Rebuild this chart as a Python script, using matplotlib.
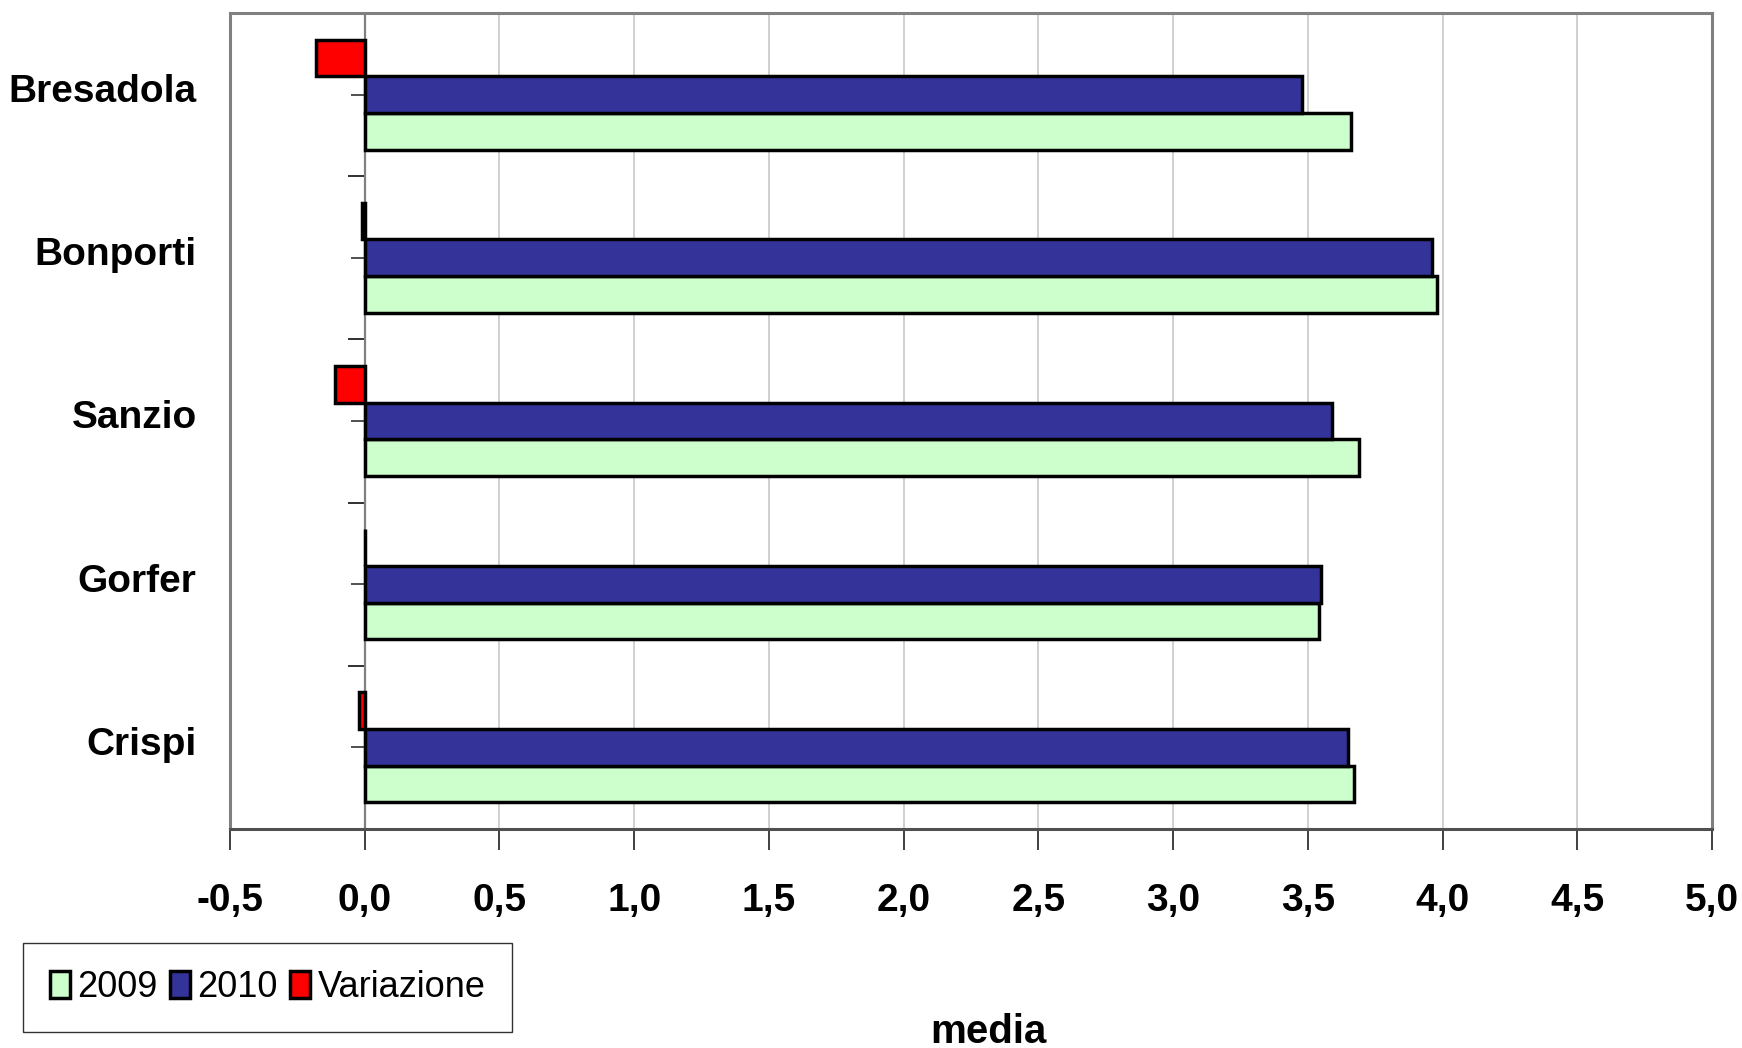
import matplotlib
matplotlib.use("Agg")
import matplotlib.pyplot as plt
import numpy as np

# data
schools = ["Bresadola", "Bonporti", "Sanzio", "Gorfer", "Crispi"]
media_2009 = [3.66, 3.98, 3.69, 3.54, 3.67]
media_2010 = [3.48, 3.96, 3.59, 3.55, 3.65]
variazione = [-0.18, -0.01, -0.11, 0.0, -0.02]
x_ticks = [-0.5, 0.0, 0.5, 1.0, 1.5, 2.0, 2.5, 3.0, 3.5, 4.0, 4.5, 5.0]

plt.rcParams["font.family"] = ["Liberation Sans Narrow", "Liberation Sans", "DejaVu Sans"]

fig = plt.figure(figsize=(17.42, 10.48), dpi=100)
ax = fig.add_axes([230 / 1742, 1 - 829 / 1048, (1712 - 230) / 1742, (829 - 13) / 1048])

y = np.arange(len(schools))
h = 0.225
edge = dict(edgecolor="black", linewidth=2.5, zorder=3)
ax.barh(y + h, media_2009, height=h, color="#CCFFCC", label="2009", **edge)
ax.barh(y, media_2010, height=h, color="#333399", label="2010", **edge)
ax.barh(y - h, variazione, height=h, color="#FF0000", label="Variazione", **edge)

ax.set_xlim(-0.5, 5.0)
ax.set_ylim(len(schools) - 0.5, -0.5)

ax.set_xticks(x_ticks)
ax.set_xticklabels([f"{v:.1f}".replace(".", ",") for v in x_ticks],
                   fontsize=28, fontweight="bold")
ax.tick_params(axis="x", direction="out", length=15, width=1.2, color="#202020", pad=24)
ax.xaxis.grid(True, color="#C8C8C8", linewidth=1.2, zorder=0)
ax.set_axisbelow(True)

ax.set_yticks(y - 0.04)
ax.set_yticklabels(schools, fontsize=28, fontweight="bold")
ax.tick_params(axis="y", length=0, pad=24)

for s in ["top", "left", "right"]:
    ax.spines[s].set_color("#808080")
    ax.spines[s].set_linewidth(2.2)
ax.spines["bottom"].set_color("#505050")
ax.spines["bottom"].set_linewidth(2.2)

# category axis drawn at x = 0
ax.axvline(0, color="#808080", linewidth=1.6, zorder=2)
sec = ax.secondary_yaxis(0.5 / 5.5)
sec.spines["left"].set_visible(False)
sec.set_yticks(np.arange(len(schools) + 1) - 0.5)
sec.set_yticks(y, minor=True)
sec.tick_params(axis="y", which="major", direction="out", length=12, width=1.4,
                color="#303030", labelleft=False, labelright=False)
sec.tick_params(axis="y", which="minor", direction="out", length=10, width=1.4,
                color="#505050", labelleft=False, labelright=False)

leg = fig.legend(loc="lower left", bbox_to_anchor=(23 / 1742, 16 / 1048), ncol=3,
                 fontsize=26, frameon=True, fancybox=False, borderaxespad=0,
                 handlelength=0.55, handleheight=0.8, handletextpad=0.2,
                 columnspacing=0.35, borderpad=0.75)
leg.get_frame().set_edgecolor("black")
leg.get_frame().set_linewidth(1.0)

fig.text(988 / 1742, 1 - 1043 / 1048, "media", fontsize=29, fontweight="bold",
         ha="center", va="baseline")

fig.savefig("out.png", dpi=100)
